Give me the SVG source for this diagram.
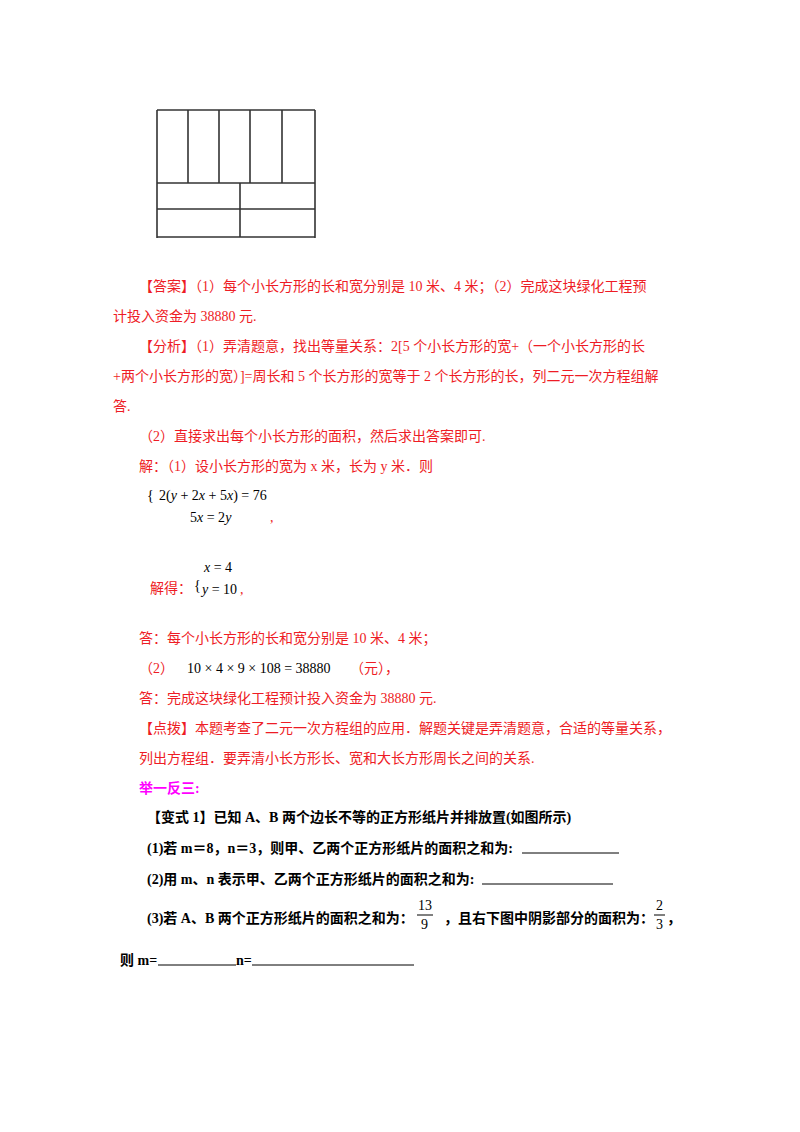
<svg xmlns="http://www.w3.org/2000/svg" width="800" height="1132" viewBox="0 0 800 1132">
<style>
.r{fill:#ee1c25;font-family:"Liberation Serif","Noto Sans CJK SC",serif;font-size:14px}
.k{fill:#000;font-family:"Liberation Serif","Noto Sans CJK SC",serif;font-size:14px}
.b{fill:#000;font-family:"Liberation Serif","Noto Sans CJK SC",serif;font-size:14px;font-weight:bold}
.m{fill:#000;font-family:"Liberation Serif",serif;font-size:14px}
.i{font-style:italic}
.fig line{stroke:#333;stroke-width:1.6}
.u{stroke:#000;stroke-width:1}
</style>
<rect width="800" height="1132" fill="#fff"/>
<g id="figure" class="fig">
<line x1="157" y1="110" x2="315" y2="110"/>
<line x1="157" y1="183" x2="315" y2="183"/>
<line x1="157" y1="209" x2="315" y2="209"/>
<line x1="157" y1="237" x2="315" y2="237"/>
<line x1="157" y1="110" x2="157" y2="238"/>
<line x1="315" y1="110" x2="315" y2="238"/>
<line x1="188" y1="110" x2="188" y2="183"/>
<line x1="219" y1="110" x2="219" y2="183"/>
<line x1="250" y1="110" x2="250" y2="183"/>
<line x1="282" y1="110" x2="282" y2="183"/>
<line x1="240" y1="183" x2="240" y2="237"/>
</g>
<g id="text">
<text class="r" x="139" y="291">【答案】（1）每个小长方形的长和宽分别是 10 米、4 米；（2）完成这块绿化工程预</text>
<text class="r" x="113" y="321">计投入资金为 38880 元.</text>
<text class="r" x="139" y="351">【分析】（1）弄清题意，找出等量关系：2[5 个小长方形的宽+（一个小长方形的长</text>
<text class="r" x="113" y="381">+两个小长方形的宽）]=周长和 5 个长方形的宽等于 2 个长方形的长，列二元一次方程组解</text>
<text class="r" x="113" y="411">答.</text>
<text class="r" x="139" y="441">（2）直接求出每个小长方形的面积，然后求出答案即可.</text>
<text class="r" x="139" y="471">解：（1）设小长方形的宽为 x 米，长为 y  米．则</text>
<text class="k" x="147" y="500" font-size="22">{</text>
<text class="m" x="159" y="500">2(<tspan class="i">y</tspan> + 2<tspan class="i">x</tspan> + 5<tspan class="i">x</tspan>) = 76</text>
<text class="m" x="190" y="522">5<tspan class="i">x</tspan> = 2<tspan class="i">y</tspan></text>
<text class="r" x="270" y="522">,</text>
<text class="r" x="150" y="593">解得：</text>
<text class="k" x="194" y="590" font-size="22">{</text>
<text class="m i" x="204" y="572">x <tspan font-style="normal">= 4</tspan></text>
<text class="m i" x="202" y="594">y <tspan font-style="normal">= 10</tspan></text>
<text class="r" x="240" y="594">,</text>
<text class="r" x="139" y="643">答：每个小长方形的长和宽分别是 10 米、4 米；</text>
<text class="r" x="139" y="673">（2）</text>
<text class="m" x="187" y="673">10 × 4 × 9 × 108 = 38880</text>
<text class="r" x="350" y="673">（元），</text>
<text class="r" x="139" y="703">答：完成这块绿化工程预计投入资金为 38880 元.</text>
<text class="r" x="139" y="733">【点拨】本题考查了二元一次方程组的应用．解题关键是弄清题意，合适的等量关系，</text>
<text class="r" x="139" y="763">列出方程组．要弄清小长方形长、宽和大长方形周长之间的关系.</text>
<text class="b" x="139" y="793" fill="#ff00ff" style="fill:#ff00ff">举一反三:</text>
<text class="b" x="147" y="822">【变式 1】已知 A、B 两个边长不等的正方形纸片并排放置(如图所示)</text>
<text class="b" x="147" y="853">(1)若 m＝8，n＝3，则甲、乙两个正方形纸片的面积之和为:</text>
<line class="u" x1="522" y1="853" x2="619" y2="853"/>
<text class="b" x="147" y="884">(2)用 m、n 表示甲、乙两个正方形纸片的面积之和为:</text>
<line class="u" x1="482" y1="884" x2="613" y2="884"/>
<text class="b" x="147" y="923">(3)若 A、B 两个正方形纸片的面积之和为：</text>
<text class="m" x="418" y="910" font-size="13">13</text>
<line class="u" x1="417" y1="915" x2="433" y2="915"/>
<text class="m" x="421" y="929" font-size="13">9</text>
<text class="b" x="444" y="923">，且右下图中阴影部分的面积为：</text>
<text class="m" x="656" y="910" font-size="13">2</text>
<line class="u" x1="654" y1="915" x2="665" y2="915"/>
<text class="m" x="656" y="929" font-size="13">3</text>
<text class="b" x="667" y="923">，</text>
<text class="b" x="120" y="965">则 m=</text>
<line class="u" x1="158" y1="965" x2="236" y2="965"/>
<text class="b" x="236" y="965">n=</text>
<line class="u" x1="252" y1="965" x2="414" y2="965"/>
</g>
</svg>
